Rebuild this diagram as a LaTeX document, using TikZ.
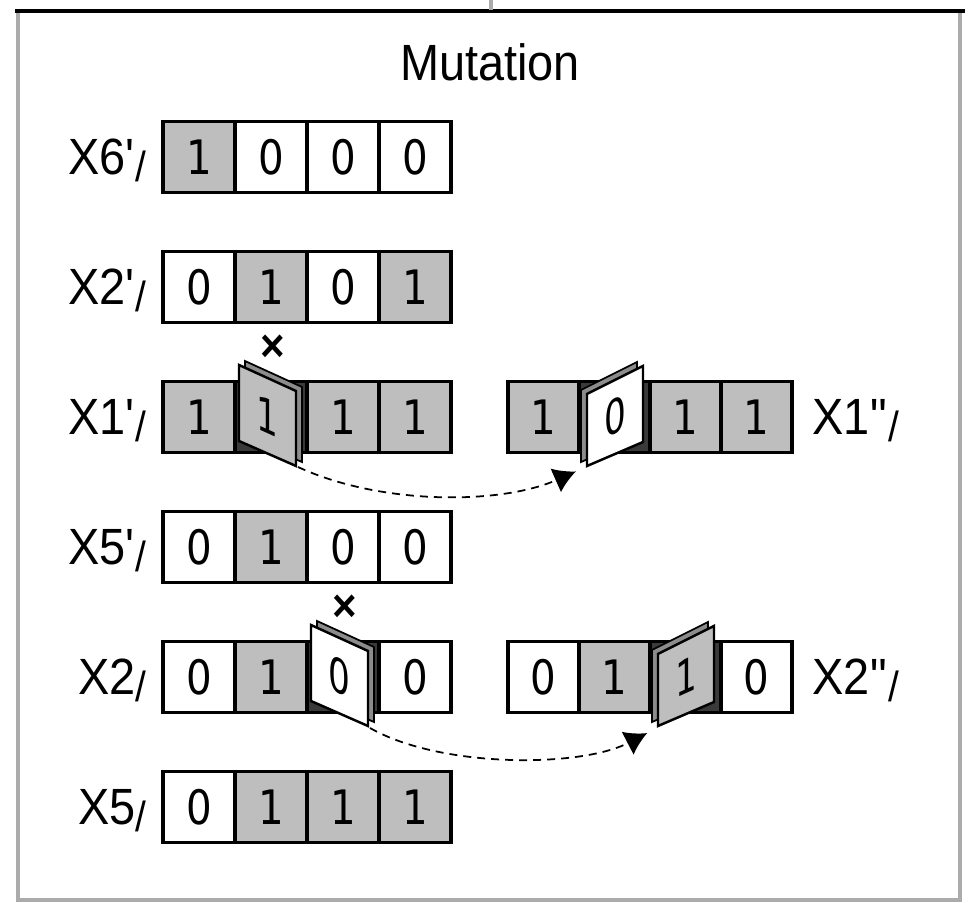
\documentclass[tikz,border=0pt]{standalone}
\usepackage{fontspec}
\setmainfont{Liberation Sans}[FakeStretch=0.92]
\newfontfamily\digitfont{DejaVu Sans}[FakeStretch=0.85]
\usepackage{xcolor}
\usepackage{tikz}
\usetikzlibrary{arrows.meta,calc}

\definecolor{bitgray}{HTML}{BEBEBE}
\definecolor{framegray}{HTML}{ABABAB}
\definecolor{holegray}{HTML}{3A3A3A}
\definecolor{edgegray}{HTML}{8C8C8C}

\newcommand{\slsh}{{\fontsize{12}{10}\selectfont\raisebox{-0.7mm}{/}}}
\newcommand{\apos}{\textquotesingle}

\tikzset{
  bitcell/.style={draw=black, line width=1pt, minimum width=7.2mm, minimum height=7.1mm,
    inner sep=0pt, outer sep=0pt, font=\digitfont\fontsize{13.5}{15}\selectfont},
  bit1/.style={bitcell, fill=bitgray},
  bit0/.style={bitcell, fill=white},
  bith/.style={bitcell, fill=holegray},
  rowlbl/.style={font=\fontsize{14.5}{15}\selectfont, inner sep=0pt},
  doorback/.style={draw=black, line width=0.5pt, fill=edgegray},
  doorface/.style={draw=black, line width=0.7pt},
  doorbit/.style={font=\digitfont\fontsize{13.5}{15}\selectfont, inner sep=0pt, transform shape},
  flipmark/.style={font=\bfseries\fontsize{13}{13}\selectfont, inner sep=0pt},
  mutarrow/.style={-{Latex[length=2.2mm,width=2.6mm]}, dash pattern=on 0.8mm off 0.6mm,
    line width=0.5pt, shorten >=1.1mm}
}

\begin{document}
\begin{tikzpicture}[x=0.1mm,y=-0.1mm]
  \useasboundingbox (0,0) rectangle (968,903);
  % panel frame
  \draw[framegray, line width=0.9pt] (18,11) -- (18,900) -- (960,900) -- (960,11);
  \draw[line width=1.2pt] (15,11) -- (965,11);
  \draw[framegray, line width=1.1pt] (491,0) -- (491,10);
  \node[rowlbl, anchor=base] (title) at (490,81) {Mutation};
  % chromosomes before mutation (h = flipped bit)
  \foreach \r/\y/\lbl/\bits in {
    a/157/{X6\apos\slsh}/{1/1,0/0,0/0,0/0},
    b/287/{X2\apos\slsh}/{0/0,1/1,0/0,1/1},
    c/417/{X1\apos\slsh}/{1/1,h/,1/1,1/1},
    d/547/{X5\apos\slsh}/{0/0,1/1,0/0,0/0},
    e/677/{X2\slsh}/{0/0,1/1,h/,0/0},
    f/807/{X5\slsh}/{0/0,1/1,1/1,1/1}%
  }{
    \node[rowlbl, anchor=base east] (lbl-\r) at (147,\y+18) {\lbl};
    \foreach \s/\t [count=\i] in \bits
      \node[bit\s] (\r\i) at (127+72*\i,\y) {\t};
  }
  % chromosomes after mutation
  \foreach \r/\y/\lbl/\bits in {
    c/417/{X1\textquotedbl\slsh}/{1/1,h/,1/1,1/1},
    e/677/{X2\textquotedbl\slsh}/{0/0,1/1,h/,0/0}%
  }{
    \foreach \s/\t [count=\i] in \bits
      \node[bit\s, minimum width=7.1mm] (\r\i m) at (472.5+71*\i,\y) {\t};
    \node[rowlbl, anchor=base west] (lbl-\r m) at (812,\y+18) {\lbl};
  }
  % flipped bits
  \draw[doorback] (245,361) -- (302,387) -- (302,462) -- (245,437) -- cycle;
  \draw[doorface, fill=bitgray] (239,365) -- (296,391) -- (296,466) -- (239,441) -- cycle;
  \begin{scope}[shift={(267.5,416)}, yslant=-0.45, xscale=0.85]
    \node[doorbit] (flip-c) at (0,0) {1};
  \end{scope}
  \draw[doorback] (581,390) -- (637,362) -- (637,438) -- (581,462) -- cycle;
  \draw[doorface, fill=white] (587,394) -- (643,366) -- (643,442) -- (587,466) -- cycle;
  \begin{scope}[shift={(615,416)}, yslant=0.45, xscale=0.85]
    \node[doorbit] (flip-cm) at (0,0) {0};
  \end{scope}
  \draw[doorback] (317,621) -- (374,647) -- (374,722) -- (317,697) -- cycle;
  \draw[doorface, fill=white] (311,625) -- (368,651) -- (368,726) -- (311,701) -- cycle;
  \begin{scope}[shift={(339.5,676)}, yslant=-0.45, xscale=0.85]
    \node[doorbit] (flip-e) at (0,0) {0};
  \end{scope}
  \draw[doorback] (652,650) -- (708,622) -- (708,698) -- (652,722) -- cycle;
  \draw[doorface, fill=bitgray] (658,654) -- (714,626) -- (714,702) -- (658,726) -- cycle;
  \begin{scope}[shift={(686,676)}, yslant=0.45, xscale=0.85]
    \node[doorbit] (flip-em) at (0,0) {1};
  \end{scope}
  \node[flipmark] (cross-c) at (273,348) {×};
  \node[flipmark] (cross-e) at (345,608) {×};
  % moves to the offspring
  \coordinate (from-c) at (298,467);
  \coordinate (to-c) at (586,467);
  \coordinate (from-e) at (370,728);
  \coordinate (to-e) at (657,728);
  \draw[mutarrow] (from-c) .. controls (380,505) and (500,505) .. (to-c);
  \draw[mutarrow] (from-e) .. controls (440,768) and (580,768) .. (to-e);
\end{tikzpicture}
\end{document}
